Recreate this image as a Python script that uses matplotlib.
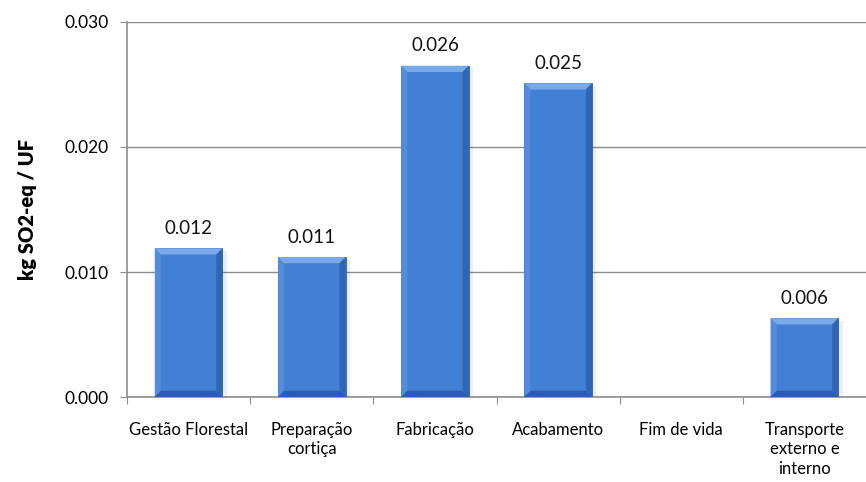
import matplotlib
matplotlib.use("Agg")
import matplotlib.pyplot as plt
from matplotlib.patches import Polygon

categories = ["Gestão Florestal", "Preparação\ncortiça", "Fabricação", "Acabamento",
              "Fim de vida", "Transporte\nexterno e\ninterno"]
values = [0.0119, 0.0112, 0.0265, 0.0251, 0.0, 0.0063]
value_labels = ["0.012", "0.011", "0.026", "0.025", None, "0.006"]
yticks = [0.000, 0.010, 0.020, 0.030]

plt.rcParams['font.family'] = ['Lato', 'DejaVu Sans']

fig = plt.figure(figsize=(8.66, 4.82), dpi=100)
ax = fig.add_axes([0.1467, 0.1763, 0.8533, 0.7781])

x = list(range(len(categories)))
width = 0.55
base = "#437fd2"
ax.set_xlim(-0.5, len(categories) - 0.5)
ax.set_ylim(0, 0.030)

for i, v in enumerate(values):
    if v <= 0:
        continue
    # soft shadow
    ax.bar(i + 0.02, v, width=width + 0.03, bottom=-0.0002, color="#000000", alpha=0.07, zorder=2)
    ax.bar(i, v, width=width, color=base, edgecolor="#2f5f9f", linewidth=0.6, zorder=3)
    l, r = i - width / 2, i + width / 2
    bx, by = 0.05, 0.0005
    # bevel: top, left, right and bottom faces
    ax.add_patch(Polygon([[l, v], [r, v], [r - bx, v - by], [l + bx, v - by]],
                         closed=True, facecolor="#78aaea", edgecolor="none", zorder=4))
    ax.add_patch(Polygon([[l, 0], [l, v], [l + bx, v - by], [l + bx, by]],
                         closed=True, facecolor="#528cda", edgecolor="none", zorder=4))
    ax.add_patch(Polygon([[r, 0], [r, v], [r - bx, v - by], [r - bx, by]],
                         closed=True, facecolor="#2f66b4", edgecolor="none", zorder=4))
    ax.add_patch(Polygon([[l, 0], [r, 0], [r - bx, by], [l + bx, by]],
                         closed=True, facecolor="#2c5ea8", edgecolor="none", zorder=4))
    if value_labels[i]:
        ax.text(i, v + 0.0009, value_labels[i], ha="center", va="bottom", fontsize=13.5, color="#111111")

ax.set_yticks(yticks)
ax.set_yticklabels([f"{t:.3f}" for t in yticks], fontsize=12.5)
ax.yaxis.grid(True, color="#8c8c8c", linewidth=1)
ax.set_axisbelow(True)

ax.set_xticks([p + 0.5 for p in x[:-1]] + [-0.5])
ax.set_xticklabels([])
ax.set_xticks(x, minor=True)
ax.set_xticklabels(categories, minor=True, fontsize=12, linespacing=1.25)
ax.tick_params(axis="x", which="minor", length=0, pad=18)
ax.tick_params(axis="x", which="major", length=5, color="#8c8c8c", direction="out")
ax.tick_params(axis="y", length=5, color="#8c8c8c", direction="out", pad=8)

for s in ["top", "right"]:
    ax.spines[s].set_visible(False)
for s in ["left", "bottom"]:
    ax.spines[s].set_color("#8c8c8c")
    ax.spines[s].set_linewidth(1.2)

ax.set_ylabel("kg SO2-eq / UF", fontsize=14.5, fontweight="heavy", labelpad=20)

fig.savefig("out.png", dpi=100)
